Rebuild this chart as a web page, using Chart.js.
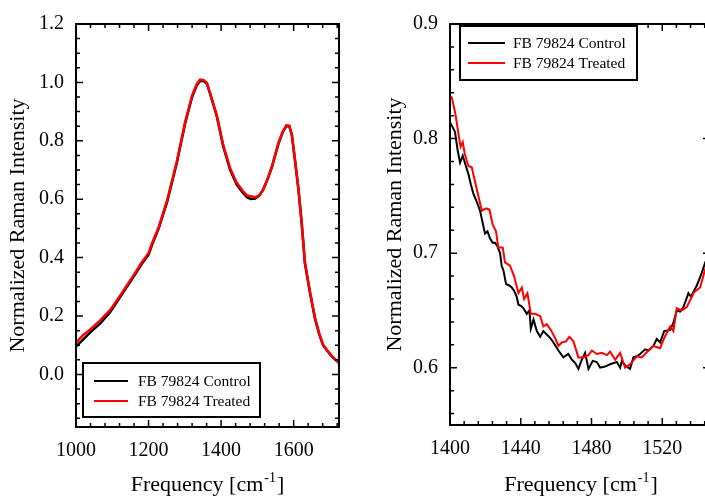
<!DOCTYPE html>
<html>
<head>
<meta charset="utf-8">
<script src="https://cdn.jsdelivr.net/npm/chart.js@4.4.1/dist/chart.umd.min.js"></script>
<style>
  html, body { margin: 0; padding: 0; background: #fff; overflow: hidden; }
  #wrap { position: relative; width: 705px; height: 497px; overflow: hidden; }
  #left { position: absolute; left: 0; top: 0; }
  #right { position: absolute; left: 352px; top: 0; }
</style>
</head>
<body>
<div id="wrap">
  <canvas id="left" width="352" height="497"></canvas>
  <canvas id="right" width="362" height="497"></canvas>
</div>
<script>
// full spectrum (left panel)
const seriesNames = ['FB 79824 Control', 'FB 79824 Treated'];
const fullFreq = [1000, 1020, 1040, 1067, 1095, 1127, 1159, 1182, 1200, 1210, 1228, 1251, 1278, 1301, 1320, 1333, 1342, 1352, 1361, 1370, 1388, 1406, 1425, 1443, 1460, 1471, 1482, 1494, 1505, 1516, 1528, 1540, 1558, 1570, 1580, 1588, 1595, 1603, 1613, 1622, 1631, 1645, 1659, 1670, 1681, 1693, 1705, 1715, 1725];
const fullControl = [0.095, 0.12, 0.145, 0.175, 0.215, 0.275, 0.335, 0.38, 0.41, 0.445, 0.50, 0.59, 0.725, 0.86, 0.95, 0.99, 1.005, 1.005, 0.995, 0.96, 0.885, 0.78, 0.70, 0.65, 0.622, 0.607, 0.601, 0.602, 0.612, 0.633, 0.668, 0.71, 0.79, 0.83, 0.85, 0.85, 0.82, 0.74, 0.635, 0.52, 0.38, 0.28, 0.19, 0.14, 0.10, 0.08, 0.062, 0.05, 0.04];
const fullTreated = [0.108, 0.135, 0.155, 0.185, 0.222, 0.28, 0.34, 0.385, 0.415, 0.45, 0.505, 0.595, 0.73, 0.865, 0.955, 0.995, 1.01, 1.008, 0.998, 0.962, 0.888, 0.785, 0.705, 0.656, 0.628, 0.613, 0.61, 0.607, 0.613, 0.633, 0.668, 0.712, 0.792, 0.832, 0.853, 0.852, 0.822, 0.742, 0.638, 0.522, 0.385, 0.283, 0.192, 0.142, 0.102, 0.082, 0.064, 0.051, 0.04];

// zoomed region (right panel)
const zoomFreqControl = [1400, 1401.5, 1402.8, 1404.3, 1405.7, 1407.2, 1408.8, 1410.4, 1411.8, 1413.2, 1415.1, 1417, 1418.4, 1419.8, 1421.2, 1422.6, 1424.1, 1425.5, 1426.8, 1428.3, 1429.2, 1430.2, 1431.7, 1433.3, 1434.9, 1436.3, 1437.7, 1438.7, 1440.1, 1441.5, 1443.4, 1444.9, 1445.7, 1447.2, 1449.1, 1451, 1452.8, 1454.7, 1456.6, 1458.5, 1461.3, 1464.1, 1466.9, 1468.9, 1470.8, 1472.6, 1474.5, 1476.4, 1478.3, 1480.7, 1483, 1484.9, 1487.7, 1490.5, 1494.3, 1496.2, 1497.2, 1499, 1501.8, 1503.7, 1505.6, 1507.5, 1510.3, 1512.2, 1515, 1516.9, 1518.8, 1521.1, 1524.5, 1526.3, 1528.2, 1530.1, 1532, 1534.8, 1536.2, 1539.6, 1542.4, 1544.3, 1547];
const zoomControl = [0.814, 0.810, 0.806, 0.790, 0.779, 0.785, 0.777, 0.769, 0.760, 0.752, 0.745, 0.737, 0.727, 0.717, 0.719, 0.713, 0.709, 0.709, 0.706, 0.700, 0.689, 0.685, 0.673, 0.672, 0.670, 0.667, 0.662, 0.655, 0.654, 0.652, 0.647, 0.650, 0.634, 0.642, 0.632, 0.627, 0.632, 0.629, 0.626, 0.622, 0.615, 0.609, 0.612, 0.607, 0.604, 0.599, 0.607, 0.613, 0.599, 0.606, 0.605, 0.600, 0.601, 0.603, 0.605, 0.600, 0.606, 0.602, 0.599, 0.609, 0.610, 0.612, 0.616, 0.615, 0.619, 0.625, 0.622, 0.632, 0.633, 0.639, 0.650, 0.649, 0.653, 0.665, 0.662, 0.672, 0.683, 0.692, 0.700];
const zoomFreqTreated = [1400, 1401, 1403, 1405.2, 1406, 1407.2, 1408.3, 1410.4, 1412.3, 1415.1, 1418, 1420.4, 1422.3, 1424.1, 1426, 1427.3, 1429.8, 1431.1, 1433.9, 1436.2, 1438.7, 1440.6, 1441.9, 1443.8, 1445.7, 1448.1, 1451, 1452.8, 1454.7, 1457, 1459.4, 1461.3, 1463.2, 1465.6, 1467.5, 1469.8, 1472.6, 1475.4, 1478.3, 1480.2, 1483, 1485.8, 1488.7, 1490.5, 1493.4, 1496.2, 1499, 1501.8, 1505.6, 1508.4, 1512.2, 1515, 1518.8, 1521.1, 1524.5, 1526.3, 1528.2, 1531.1, 1533.9, 1538, 1541.4, 1544.3, 1547];
const zoomTreated = [0.837, 0.836, 0.822, 0.800, 0.793, 0.797, 0.787, 0.776, 0.775, 0.756, 0.737, 0.739, 0.738, 0.725, 0.719, 0.705, 0.705, 0.692, 0.689, 0.680, 0.665, 0.670, 0.660, 0.665, 0.647, 0.647, 0.645, 0.636, 0.638, 0.633, 0.626, 0.619, 0.622, 0.623, 0.627, 0.623, 0.609, 0.609, 0.611, 0.615, 0.612, 0.613, 0.611, 0.614, 0.607, 0.613, 0.600, 0.603, 0.610, 0.609, 0.615, 0.619, 0.617, 0.626, 0.636, 0.632, 0.652, 0.650, 0.653, 0.666, 0.670, 0.686, 0.695];

const leftXTicks = [1000, 1200, 1400, 1600];
const leftYTicks = [0.0, 0.2, 0.4, 0.6, 0.8, 1.0, 1.2];
const rightXTicks = [1400, 1440, 1480, 1520];
const rightYTicks = [0.6, 0.7, 0.8, 0.9];

const FONT = 'Liberation Serif';

const toPoints = (xs, ys) => xs.map((x, i) => ({ x: x, y: ys[i] }));

// frame, inward ticks, titles and boxed legend
const framePlugin = {
  id: 'frame',
  afterDraw(chart, args, o) {
    const { ctx, chartArea: a, scales: { x, y } } = chart;
    ctx.save();

    ctx.strokeStyle = '#000';
    ctx.lineWidth = 1.5;
    ctx.beginPath();
    const mark = (scale, v, len) => {
      const p = scale.getPixelForValue(v);
      if (scale.isHorizontal()) {
        ctx.moveTo(p, a.bottom); ctx.lineTo(p, a.bottom - len);
        ctx.moveTo(p, a.top); ctx.lineTo(p, a.top + len);
      } else {
        ctx.moveTo(a.left, p); ctx.lineTo(a.left + len, p);
        ctx.moveTo(a.right, p); ctx.lineTo(a.right - len, p);
      }
    };
    const minors = (scale, step) => {
      for (let i = 1; ; i++) {
        const v = o.minorStart[scale.id] + i * step;
        if (v > scale.max + 1e-9) break;
        mark(scale, v, 4);
      }
    };
    x.ticks.forEach(t => mark(x, t.value, 7));
    y.ticks.forEach(t => mark(y, t.value, 7));
    minors(x, o.minorX);
    minors(y, o.minorY);
    ctx.stroke();

    ctx.lineWidth = 2;
    ctx.strokeRect(a.left, a.top, a.right - a.left, a.bottom - a.top);

    // y title
    ctx.fillStyle = '#000';
    ctx.font = '22px "' + FONT + '"';
    ctx.textAlign = 'center';
    ctx.textBaseline = 'middle';
    ctx.save();
    ctx.translate(o.yTitleX, (a.top + a.bottom) / 2);
    ctx.rotate(-Math.PI / 2);
    ctx.fillText('Normalized Raman Intensity', 0, 0);
    ctx.restore();

    // x title with superscript
    ctx.textAlign = 'left';
    ctx.textBaseline = 'alphabetic';
    const main = 'Frequency [cm', sup = '-1', end = ']';
    ctx.font = '22px "' + FONT + '"';
    const w1 = ctx.measureText(main).width, w3 = ctx.measureText(end).width;
    ctx.font = '14px "' + FONT + '"';
    const w2 = ctx.measureText(sup).width;
    let sx = (a.left + a.right) / 2 - (w1 + w2 + w3 + 2) / 2;
    if (o.xTitleCenter !== undefined) sx = o.xTitleCenter - (w1 + w2 + w3 + 2) / 2;
    ctx.font = '22px "' + FONT + '"';
    ctx.fillText(main, sx, o.xTitleBase);
    ctx.font = '14px "' + FONT + '"';
    ctx.fillText(sup, sx + w1 + 1, o.xTitleBase - 9);
    ctx.font = '22px "' + FONT + '"';
    ctx.fillText(end, sx + w1 + w2 + 2, o.xTitleBase);

    // legend box
    const L = o.legend;
    ctx.fillStyle = '#fff';
    ctx.fillRect(L.x, L.y, L.w, L.h);
    ctx.lineWidth = 2;
    ctx.strokeRect(L.x, L.y, L.w, L.h);
    ctx.font = '15.5px "' + FONT + '"';
    ctx.textBaseline = 'middle';
    chart.data.datasets.forEach((ds, i) => {
      const ry = L.y + L.row0 + i * L.rowGap;
      ctx.strokeStyle = ds.borderColor;
      ctx.lineWidth = 2;
      ctx.beginPath();
      ctx.moveTo(L.x + L.lineX0, ry);
      ctx.lineTo(L.x + L.lineX1, ry);
      ctx.stroke();
      ctx.fillStyle = '#000';
      ctx.fillText(ds.label, L.x + L.textX, ry + 1);
    });

    ctx.restore();
  }
};

function makeChart(id, cfg) {
  return new Chart(document.getElementById(id), {
    type: 'scatter',
    data: {
      datasets: [
        { label: seriesNames[0], data: cfg.control, borderColor: '#000000', borderWidth: cfg.lw, showLine: true, pointRadius: 0, order: 1 },
        { label: seriesNames[1], data: cfg.treated, borderColor: '#ff0000', borderWidth: cfg.lw, showLine: true, pointRadius: 0, order: 0 }
      ]
    },
    options: {
      responsive: false,
      animation: false,
      layout: { padding: cfg.padding },
      plugins: { legend: { display: false }, tooltip: { enabled: false }, frame: cfg.frame },
      scales: {
        x: {
          type: 'linear', min: cfg.xMin, max: cfg.xMax,
          grid: { display: false, drawTicks: false }, border: { display: false },
          ticks: { color: '#000', font: { family: FONT, size: 20 }, padding: 12, maxRotation: 0, callback: v => String(v) },
          afterBuildTicks: s => { s.ticks = cfg.xTicks.map(v => ({ value: v })); },
          afterFit: s => { s.height = cfg.xHeight; }
        },
        y: {
          type: 'linear', min: cfg.yMin, max: cfg.yMax,
          grid: { display: false, drawTicks: false }, border: { display: false },
          ticks: { color: '#000', font: { family: FONT, size: 20 }, padding: 12, callback: v => Number(v).toFixed(1) },
          afterBuildTicks: s => { s.ticks = cfg.yTicks.map(v => ({ value: v })); },
          afterFit: s => { s.width = cfg.yWidth; }
        }
      }
    },
    plugins: [framePlugin]
  });
}

makeChart('left', {
  control: toPoints(fullFreq, fullControl),
  treated: toPoints(fullFreq, fullTreated),
  lw: 2.5,
  xMin: 1000, xMax: 1725, yMin: -0.18, yMax: 1.2,
  xTicks: leftXTicks, yTicks: leftYTicks,
  xHeight: 70, yWidth: 76,
  padding: { left: 0, right: 13, top: 19, bottom: 0 },
  frame: {
    minorX: 40, minorY: 0.05, minorStart: { x: 1000, y: -0.2 },
    yTitleX: 18, xTitleBase: 491,
    legend: { x: 83, y: 363, w: 177, h: 54, row0: 18, rowGap: 20, lineX0: 11, lineX1: 45, textX: 55 }
  }
});

makeChart('right', {
  control: toPoints(zoomFreqControl, zoomControl),
  treated: toPoints(zoomFreqTreated, zoomTreated),
  lw: 2,
  xMin: 1400, xMax: 1547, yMin: 0.55, yMax: 0.9,
  xTicks: rightXTicks, yTicks: rightYTicks,
  xHeight: 72, yWidth: 98,
  padding: { left: 0, right: 4, top: 20, bottom: 0 },
  frame: {
    minorX: 8, minorY: 0.02, minorStart: { x: 1400, y: 0.54 },
    yTitleX: 43, xTitleBase: 491, xTitleCenter: 229,
    legend: { x: 108, y: 26, w: 177, h: 54, row0: 17, rowGap: 20, lineX0: 8, lineX1: 45, textX: 53 }
  }
});
</script>
</body>
</html>
